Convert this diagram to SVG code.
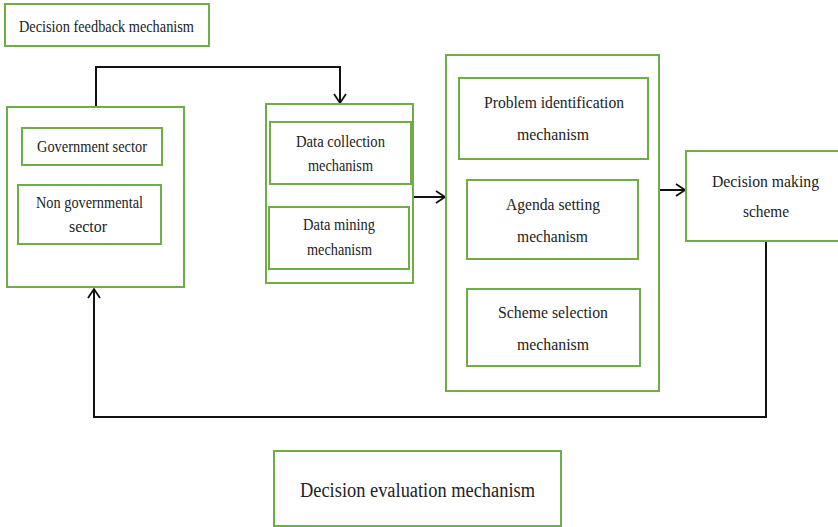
<svg xmlns="http://www.w3.org/2000/svg" width="838" height="527" viewBox="0 0 838 527" font-family="'Liberation Serif', serif">
<style>
.box{fill:#fff;stroke:#70AD47;stroke-width:2}
.inner{fill:none;stroke:#70AD47;stroke-width:2}
text{font-family:'Liberation Serif','DejaVu Serif',serif;font-size:16px;fill:#222}
.big{font-size:20px}
.conn{fill:none;stroke:#111;stroke-width:2}
</style>
<defs>
<marker id="arr" markerWidth="12" markerHeight="14" refX="10" refY="7" orient="auto" markerUnits="userSpaceOnUse">
<path d="M1,1 L10,7 L1,13" fill="none" stroke="#111" stroke-width="1.8"/>
</marker>
</defs>
<rect width="838" height="527" fill="#fff"/>
<g id="connectors">
<path class="conn" d="M96,107 V67 H340 V103" marker-end="url(#arr)"/>
<path class="conn" d="M413,197 H445" marker-end="url(#arr)"/>
<path class="conn" d="M659,190 H685" marker-end="url(#arr)"/>
<path class="conn" d="M766,241 V417 H94 V289" marker-end="url(#arr)"/>
</g>
<g id="feedback">
<rect class="box" x="5" y="4" width="204" height="42"/>
<text x="19" y="32" textLength="175" lengthAdjust="spacingAndGlyphs">Decision feedback mechanism</text>
</g>
<g id="sectors">
<rect class="box" x="7" y="107" width="177" height="180"/>
<g id="gov">
<rect class="inner" x="22" y="128" width="140" height="37"/>
<text x="37" y="152" textLength="110" lengthAdjust="spacingAndGlyphs">Government sector</text>
</g>
<g id="nongov">
<rect class="inner" x="18" y="185" width="143" height="59"/>
<text x="36" y="208" textLength="107" lengthAdjust="spacingAndGlyphs">Non governmental</text>
<text x="69" y="232" textLength="38" lengthAdjust="spacingAndGlyphs">sector</text>
</g>
</g>
<g id="data">
<rect class="box" x="266" y="104" width="147" height="179"/>
<g id="collection">
<rect class="inner" x="270" y="122" width="141" height="62"/>
<text x="296" y="147" textLength="89" lengthAdjust="spacingAndGlyphs">Data collection</text>
<text x="308" y="171" textLength="65" lengthAdjust="spacingAndGlyphs">mechanism</text>
</g>
<g id="mining">
<rect class="inner" x="269" y="207" width="140" height="62"/>
<text x="303" y="230" textLength="72" lengthAdjust="spacingAndGlyphs">Data mining</text>
<text x="307" y="255" textLength="65" lengthAdjust="spacingAndGlyphs">mechanism</text>
</g>
</g>
<g id="process">
<rect class="box" x="446" y="55" width="213" height="336"/>
<g id="problem">
<rect class="inner" x="459" y="78" width="189" height="81"/>
<text x="484" y="108" textLength="140" lengthAdjust="spacingAndGlyphs">Problem identification</text>
<text x="517" y="140" textLength="72" lengthAdjust="spacingAndGlyphs">mechanism</text>
</g>
<g id="agenda">
<rect class="inner" x="467" y="180" width="171" height="79"/>
<text x="506" y="210" textLength="94" lengthAdjust="spacingAndGlyphs">Agenda setting</text>
<text x="517" y="242" textLength="71" lengthAdjust="spacingAndGlyphs">mechanism</text>
</g>
<g id="scheme">
<rect class="inner" x="467" y="289" width="173" height="77"/>
<text x="498" y="318" textLength="110" lengthAdjust="spacingAndGlyphs">Scheme selection</text>
<text x="517" y="350" textLength="72" lengthAdjust="spacingAndGlyphs">mechanism</text>
</g>
</g>
<g id="decision">
<rect class="box" x="686" y="151" width="160" height="90"/>
<text x="712" y="187" textLength="107" lengthAdjust="spacingAndGlyphs">Decision making</text>
<text x="743" y="217" textLength="46" lengthAdjust="spacingAndGlyphs">scheme</text>
</g>
<g id="evaluation">
<rect class="box" x="274" y="451" width="287" height="75"/>
<text class="big" x="300" y="497" textLength="235" lengthAdjust="spacingAndGlyphs">Decision evaluation mechanism</text>
</g>
</svg>
